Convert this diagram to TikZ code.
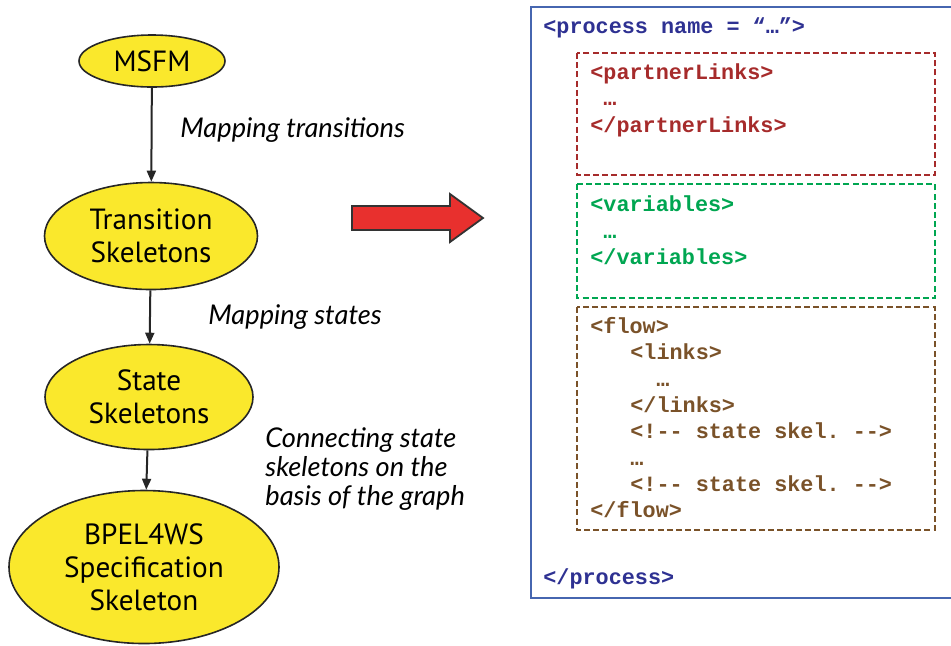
\documentclass[tikz,border=0pt]{standalone}
\usepackage{fontspec}
\setmainfont{PT Sans}
\setmonofont{Liberation Mono}
\newfontfamily\notefont{Lato}
\usetikzlibrary{shapes.geometric,arrows.meta}
\definecolor{skelyellow}{HTML}{FAE82C}
\definecolor{bigred}{HTML}{E8302E}
\definecolor{frameblue}{HTML}{4666B0}
\definecolor{procblue}{HTML}{2E3192}
\definecolor{plred}{HTML}{A62B2B}
\definecolor{vargreen}{HTML}{00A651}
\definecolor{flowbrown}{HTML}{7A5229}
\tikzset{
  skel/.style={ellipse, draw=black!85, line width=0.8pt, fill=skelyellow, inner sep=0pt,
    align=center, font=\fontsize{14.6}{16.5}\selectfont},
  flowarrow/.style={draw=black!85, line width=1pt, -{Triangle[length=5.5pt,width=4.5pt]}},
  note/.style={anchor=west, inner sep=0pt, align=left,
    font=\notefont\itshape\fontsize{13.6}{14.5}\selectfont},
  code/.style={anchor=base west, inner sep=0pt, font=\ttfamily\bfseries\fontsize{10.9}{13}\selectfont},
  codebox/.style={dash pattern=on 3pt off 1.6pt, line width=1.3pt}
}
\begin{document}
\begin{tikzpicture}[x=0.5pt,y=-0.5pt]
  \useasboundingbox (0,0) rectangle (951,645);
  % Ellipsen links
  \node[skel, minimum width=73pt, minimum height=26pt] (msfm) at (152,61) {MSFM};
  \node[skel, minimum width=106.5pt, minimum height=53.5pt] (trans) at (151,236) {Transition\\Skeletons};
  \node[skel, minimum width=104pt, minimum height=52.5pt] (state) at (149,397) {State\\Skeletons};
  \node[skel, minimum width=135pt, minimum height=76.5pt] (bpel) at (144,567) {BPEL4WS\\Specification\\Skeleton};
  % Pfeile
  \draw[flowarrow] (msfm) -- (trans);
  \draw[flowarrow] (trans) -- (state);
  \draw[flowarrow] (state) -- (bpel);
  % Beschriftungen
  \node[note] (mtrans) at (180,130) {Mapping transitions};
  \node[note] (mstates) at (208,317) {Mapping states};
  \node[note] (connect) at (265,469) {Connecting state\\skeletons on the\\basis of the graph};
  % roter Pfeil
  \draw[fill=bigred, draw=black!80, line width=0.9pt]
    (352,206) -- (450,206) -- (450,194) -- (483,218) -- (450,242) -- (450,230) -- (352,230) -- cycle;
  % Prozess-Rahmen
  \draw[frameblue, line width=1pt] (951,7) -- (531,7) -- (531,598) -- (951,598);
  \draw[codebox, plred] (577,53) rectangle (935,175);
  \draw[codebox, vargreen] (577,184) rectangle (935,298);
  \draw[codebox, flowbrown] (577,307) rectangle (935,530);
  % Code
  \node[code, procblue] (popen) at (543,33) {<process name = “…”>};
  \node[code, plred] (plopen) at (590,79) {<partnerLinks>};
  \node[code, plred] (pldots) at (603,105) {…};
  \node[code, plred] (plclose) at (590,132) {</partnerLinks>};
  \node[code, vargreen] (varopen) at (590,211) {<variables>};
  \node[code, vargreen] (vardots) at (603,238) {…};
  \node[code, vargreen] (varclose) at (590,264) {</variables>};
  \node[code, flowbrown] (flopen) at (590,333) {<flow>};
  \node[code, flowbrown] (lkopen) at (630,359) {<links>};
  \node[code, flowbrown] (lkdots) at (656,386) {…};
  \node[code, flowbrown] (lkclose) at (630,412) {</links>};
  \node[code, flowbrown] (skelA) at (630,438) {<!-- state skel. -->};
  \node[code, flowbrown] (skdots) at (630,465) {…};
  \node[code, flowbrown] (skelB) at (630,491) {<!-- state skel. -->};
  \node[code, flowbrown] (flclose) at (590,517) {</flow>};
  \node[code, procblue] (pclose) at (543,584) {</process>};
\end{tikzpicture}
\end{document}
